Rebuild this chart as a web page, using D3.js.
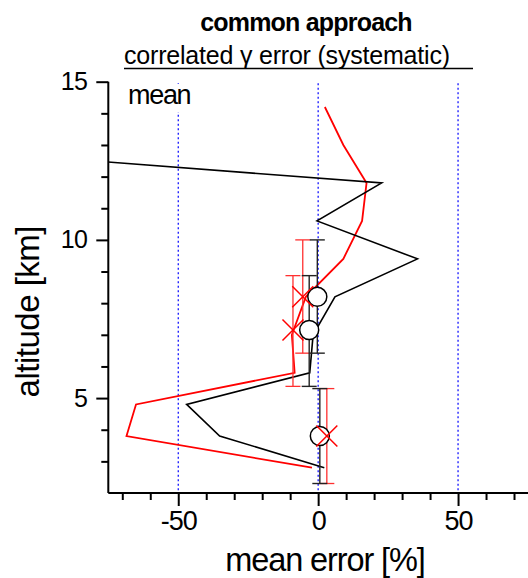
<!DOCTYPE html>
<html><head><meta charset="utf-8">
<script src="https://cdn.jsdelivr.net/npm/d3@7"></script>
<style>
body{margin:0;background:#fff;}
svg text{font-family:"Liberation Sans",Arial,sans-serif;fill:#000;}
</style></head>
<body><svg id="c" width="528" height="578"></svg>
<script>
// ---- data ----
const altitudes = [14.2, 13.0, 11.8, 10.6, 9.4, 8.2, 7.0, 5.8, 4.8, 3.8, 2.8];
const blackSeries = [null, -155, 22.7, -0.4, 35.5, 6.0, -1.8, -3.0, -47.0, -35.2, 2.2];
const redSeries = [2.4, 9.0, 17.3, 15.7, 9.0, -4.4, -9.4, -8.4, -65.1, -68.5, -2.2];
const circleAlt = [8.2, 7.15, 3.8];
const circleVal = [-0.3, -3.2, 0.6];
const crossAlt = [8.2, 7.15, 3.8];
const crossVal = [-5.5, -9.0, 3.1];
const barLow = [6.42, 5.37, 2.3];
const barHigh = [10.0, 8.87, 5.3];
const xMajorTicks = [-50, 0, 50];
const xMinorTicks = [-70, -60, -40, -30, -20, -10, 10, 20, 30, 40, 60, 70];
const yMajorTicks = [5, 10, 15];
const yMinorTicks = [3, 4, 6, 7, 8, 9, 11, 12, 13, 14];
const refLines = [-50, 0, 50];

const svg = d3.select("#c");
const x = d3.scaleLinear().domain([-75, 75]).range([108.3, 528]);
const y = d3.scaleLinear().domain([2, 15]).range([493, 81.7]);

svg.append("defs").append("clipPath").attr("id","clip")
  .append("rect").attr("x",108.3).attr("y",0).attr("width",420).attr("height",493);

// reference dotted lines
svg.append("g").selectAll("line").data(refLines).join("line")
  .attr("x1", d=>x(d)).attr("x2", d=>x(d))
  .attr("y1", y(14.95)).attr("y2", y(2))
  .attr("stroke","#0000ff").attr("stroke-width",1.2).attr("stroke-dasharray","2,2.5");

// label "mean" with white background
svg.append("rect").attr("x",124).attr("y",84).attr("width",72).attr("height",28).attr("fill","#fff");
svg.append("text").attr("x",128).attr("y",103.5).attr("font-size",27).attr("letter-spacing",-1.3).text("mean");

const plot = svg.append("g").attr("clip-path","url(#clip)");
const line = d3.line().defined(d=>d[0]!==null).x(d=>x(d[0])).y(d=>y(d[1]));
plot.append("path").datum(redSeries.map((v,i)=>[v,altitudes[i]]))
  .attr("d", line).attr("fill","none").attr("stroke","#ff0000").attr("stroke-width",1.8);
plot.append("path").datum(blackSeries.map((v,i)=>[v,altitudes[i]]))
  .attr("d", line).attr("fill","none").attr("stroke","#000").attr("stroke-width",1.6);

// error bars
function bars(vals, color, w){
  const g = plot.append("g").attr("stroke",color).attr("stroke-width",w);
  vals.forEach((v,i)=>{
    g.append("line").attr("x1",x(v)).attr("x2",x(v)).attr("y1",y(barLow[i])).attr("y2",y(barHigh[i]));
    [barLow[i], barHigh[i]].forEach(a=>{
      g.append("line").attr("x1",x(v)-7.5).attr("x2",x(v)+7.5).attr("y1",y(a)).attr("y2",y(a));
    });
  });
}
bars(crossVal, "#ff3030", 1.3);
bars(circleVal, "#222", 1.4);

// circles
plot.append("g").selectAll("circle").data(circleVal).join("circle")
  .attr("cx", d=>x(d)).attr("cy", (d,i)=>y(circleAlt[i])).attr("r",9.5)
  .attr("fill","#fff").attr("stroke","#000").attr("stroke-width",1.5);
// crosses
const cg = plot.append("g").attr("stroke","#ff0000").attr("stroke-width",1.5);
crossVal.forEach((v,i)=>{
  const cx = x(v), cy = y(crossAlt[i]), s = 10.5;
  cg.append("line").attr("x1",cx-s).attr("y1",cy-s).attr("x2",cx+s).attr("y2",cy+s);
  cg.append("line").attr("x1",cx-s).attr("y1",cy+s).attr("x2",cx+s).attr("y2",cy-s);
});

// axes
const fmt = d=>d<0 ? "-"+Math.abs(d) : String(d);
const xMaj = svg.append("g").attr("transform","translate(0,493)")
  .call(d3.axisBottom(x).tickValues(xMajorTicks).tickSize(13).tickPadding(5).tickFormat(fmt));
const xMin = svg.append("g").attr("transform","translate(0,493)")
  .call(d3.axisBottom(x).tickValues(xMinorTicks).tickSize(7).tickFormat(""));
const yMaj = svg.append("g").attr("transform","translate(108.3,0)")
  .call(d3.axisLeft(y).tickValues(yMajorTicks).tickSize(12).tickPadding(9).tickFormat(d3.format("d")));
const yMin = svg.append("g").attr("transform","translate(108.3,0)")
  .call(d3.axisLeft(y).tickValues(yMinorTicks).tickSize(7).tickFormat(""));
[xMaj,xMin,yMaj,yMin].forEach(g=>{
  g.selectAll("path.domain").attr("stroke","#000").attr("stroke-width",2);
  g.selectAll(".tick line").attr("stroke","#000").attr("stroke-width",2);
  g.selectAll("text").attr("font-family",'"Liberation Sans",Arial,sans-serif').attr("fill","#000");
});
xMaj.selectAll("text").attr("font-size",27).attr("letter-spacing",-1);
yMaj.selectAll("text").attr("font-size",25).attr("letter-spacing",-0.6);
xMin.select("path.domain").remove(); yMin.select("path.domain").remove();
xMaj.select("path.domain").attr("d","M108.3,0H528");
yMaj.select("path.domain").attr("d","M0,81.7V493");

// titles
svg.append("text").attr("x",306).attr("y",31).attr("text-anchor","middle")
  .attr("font-size",25).attr("font-weight","bold").attr("letter-spacing",-0.8).text("common approach");
svg.append("text").attr("x",124).attr("y",63.5).attr("font-size",25).attr("letter-spacing",-0.2)
  .text("correlated γ error (systematic)");
svg.append("line").attr("x1",124).attr("x2",473).attr("y1",68.5).attr("y2",68.5).attr("stroke","#000").attr("stroke-width",1.5);
svg.append("text").attr("x",325).attr("y",571).attr("text-anchor","middle")
  .attr("font-size",32.5).attr("letter-spacing",-1.1).text("mean error [%]");
svg.append("text").attr("transform","translate(38.5,311.7) rotate(-90)").attr("text-anchor","middle")
  .attr("font-size",33).attr("letter-spacing",-0.5).text("altitude [km]");
</script></body></html>
